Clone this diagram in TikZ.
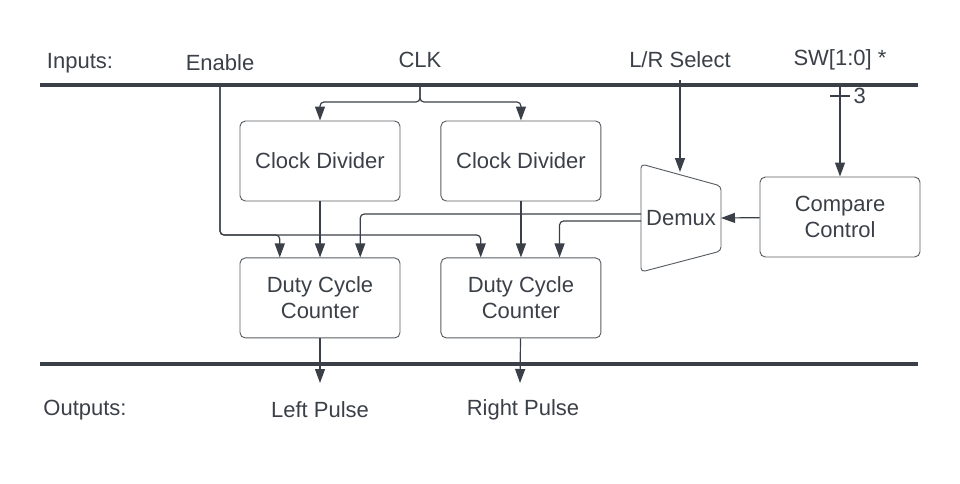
\documentclass[tikz,border=0pt]{standalone}
\usepackage{fontspec}
\setmainfont{Liberation Sans}
\usetikzlibrary{arrows.meta,positioning,calc}
\definecolor{ink}{HTML}{3B4048}

\begin{document}
\begin{tikzpicture}[x=0.75pt,y=-0.75pt,>={Triangle[length=10.5pt,width=7.5pt]},
                    wire/.style={->,draw=ink,line width=0.9pt,rounded corners=3pt},
                    bus/.style={draw=ink,line width=2.3pt}]
    \tikzset{every node/.style={font=\fontsize{16.5}{19.5}\selectfont,text=ink},
             block/.style={draw=ink!85,line width=0.7pt,rounded corners=4pt,
                           minimum width=120pt,minimum height=60pt,align=center}}
    \useasboundingbox (0,0) rectangle (960,483);
    % labels
    \node (in) at (80,63) {Inputs:};
    \node (en) at (220,63) {Enable};
    \node (clk) at (420,60) {CLK};
    \node (lr) at (680,60) {L/R Select};
    \node (sw) at (840,60) {SW[1:0] *};
    \node (out) at (85,410) {Outputs:};
    \node (lp) at (320,410) {Left Pulse};
    \node (rp) at (523,410) {Right Pulse};
    % buses
    \draw[bus] (40,85) -- (918,85);
    \draw[bus] (40,364) -- (918,364);
    \coordinate (enT) at (220,85);
    \coordinate (clkT) at (420,85);
    \coordinate (lrT) at (680,80);
    \coordinate (swT) at (840,85);
    \coordinate (lpB) at (320,383);
    \coordinate (rpB) at (520,383);
    % blocks
    \node[block] (div1) at (320,161) {Clock Divider};
    \node[block] (div2) [right=30pt of div1] {Clock Divider};
    \node[block] (dcc1) [below=42pt of div1] {Duty Cycle\\Counter};
    \node[block] (dcc2) [right=30pt of dcc1] {Duty Cycle\\Counter};
    \node[block] (cmp) at (840,217) {Compare\\Control};
    \node (demux) at (681,218) {Demux};
    \draw[draw=ink!85,line width=0.7pt,rounded corners=3pt]
        ($(demux)+(-40,-54)$) -- ($(demux)+(40,-32)$) -- ($(demux)+(40,33)$)
        -- ($(demux)+(-40,54)$) -- cycle;
    \coordinate (dmxA) at ($(demux)+(-40,-4)$);
    \coordinate (dmxB) at ($(demux)+(-40,3)$);
    \coordinate (dmxR) at ($(demux)+(40,0)$);
    \coordinate (dmxT) at ($(demux)+(-1,-46)$);
    \coordinate (e1) at ($(dcc1.north west)!0.25!(dcc1.north east)$);
    \coordinate (e2) at ($(dcc2.north west)!0.25!(dcc2.north east)$);
    \coordinate (s1) at ($(dcc1.north west)!0.75!(dcc1.north east)$);
    \coordinate (s2) at ($(dcc2.north west)!0.74!(dcc2.north east)$);
    % connectors
    \draw[wire] (clkT) -- (420,102) -| (div1.north);
    \draw[wire] (clkT) -- (420,102) -| (div2.north);
    \draw[wire] (enT) -- (220,235) -| (e1);
    \draw[wire] (enT) -- (220,235) -| (e2);
    \draw[wire] (div1) -- (dcc1);
    \draw[wire] (div2) -- (dcc2);
    \draw[wire] (dmxA) -| (s1);
    \draw[wire] (dmxB) -| (s2);
    \draw[wire] (cmp) -- (dmxR);
    \draw[wire] (lrT) -- (dmxT);
    \draw[wire] (swT) -- (cmp);
    \draw[draw=ink,line width=0.9pt] ($(swT)+(-10,11)$) -- ++(20,0)
        node[right=-1pt] (bw) {3};
    \draw[wire] (dcc1) -- (lpB);
    \draw[wire] (dcc2) -- (rpB);
\end{tikzpicture}
\end{document}
